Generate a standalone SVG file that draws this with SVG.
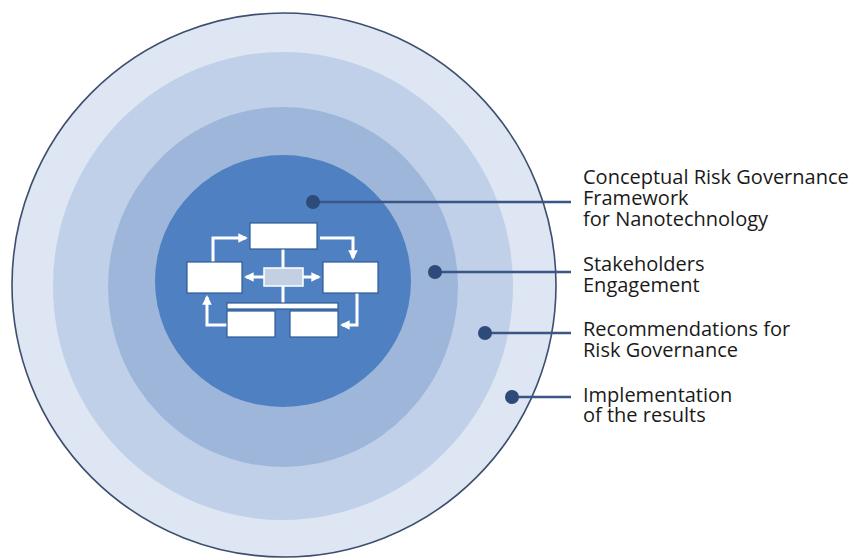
<svg xmlns="http://www.w3.org/2000/svg" width="858" height="560" viewBox="0 0 858 560">
<defs>
<style>
.lbl{font-family:"Open Sans","Noto Sans","Liberation Sans",sans-serif;font-size:20px;fill:#1a1a1a}
.box{fill:#ffffff;stroke:#2f5a96;stroke-width:1.2}
.fl{fill:none;stroke:#ffffff;stroke-width:3}
.con{stroke:#3b5686;stroke-width:2.5;fill:none}
.dot{fill:#2d4a78}
</style>
<marker id="ah" viewBox="0 0 10 10" refX="8" refY="5" markerWidth="3.2" markerHeight="3.2" orient="auto" markerUnits="strokeWidth">
<path d="M0,0 L10,5 L0,10 z" fill="#ffffff"/>
</marker>
</defs>
<rect width="858" height="560" fill="#ffffff"/>
<g id="ring-implementation">
<ellipse cx="284" cy="285" rx="272" ry="272" fill="#dde6f2" stroke="#3d4e6e" stroke-width="1.6"/>
</g>
<g id="ring-recommendations">
<ellipse cx="283" cy="286" rx="230" ry="234" fill="#bfd0e8"/>
</g>
<g id="ring-stakeholders">
<ellipse cx="283" cy="287" rx="175" ry="180" fill="#9db6da"/>
</g>
<g id="core-framework">
<ellipse cx="283" cy="281" rx="128" ry="126" fill="#4e80c2"/>
</g>
<g id="flowchart">
<line class="fl" x1="283" y1="249" x2="283" y2="304"/>
<path class="fl" d="M213,262 V238 H246" marker-end="url(#ah)"/>
<path class="fl" d="M320,238 H353 V258" marker-end="url(#ah)"/>
<path class="fl" d="M357,292 V325 H342" marker-end="url(#ah)"/>
<path class="fl" d="M227,325 H207 V297" marker-end="url(#ah)"/>
<path class="fl" d="M264,277 H246" marker-end="url(#ah)"/>
<path class="fl" d="M303,277 H319" marker-end="url(#ah)"/>
<rect class="box" x="250" y="223" width="67" height="26"/>
<rect class="box" x="187" y="262" width="55" height="31"/>
<rect class="box" x="323" y="262" width="55" height="31"/>
<rect x="264" y="268" width="39" height="18" fill="#c3d0e3" stroke="#ffffff" stroke-width="1.5"/>
<rect class="box" x="227" y="303" width="111" height="6"/>
<rect class="box" x="227" y="311" width="48" height="26"/>
<rect class="box" x="290" y="311" width="48" height="26"/>
</g>
<g id="connectors">
<line class="con" x1="313" y1="202" x2="571" y2="202"/>
<circle class="dot" cx="313" cy="202" r="7"/>
<line class="con" x1="435" y1="272" x2="571" y2="272"/>
<circle class="dot" cx="435" cy="272" r="7"/>
<line class="con" x1="485" y1="333" x2="571" y2="333"/>
<circle class="dot" cx="485" cy="333" r="7"/>
<line class="con" x1="512" y1="397" x2="571" y2="397"/>
<circle class="dot" cx="512" cy="397" r="7"/>
</g>
<g id="label-framework">
<text class="lbl" x="583" y="184">Conceptual Risk Governance</text>
<text class="lbl" x="583" y="205">Framework</text>
<text class="lbl" x="583" y="226">for Nanotechnology</text>
</g>
<g id="label-stakeholders">
<text class="lbl" x="583" y="271">Stakeholders</text>
<text class="lbl" x="583" y="292">Engagement</text>
</g>
<g id="label-recommendations">
<text class="lbl" x="583" y="336">Recommendations for</text>
<text class="lbl" x="583" y="357">Risk Governance</text>
</g>
<g id="label-implementation">
<text class="lbl" x="583" y="402">Implementation</text>
<text class="lbl" x="583" y="422">of the results</text>
</g>
</svg>
